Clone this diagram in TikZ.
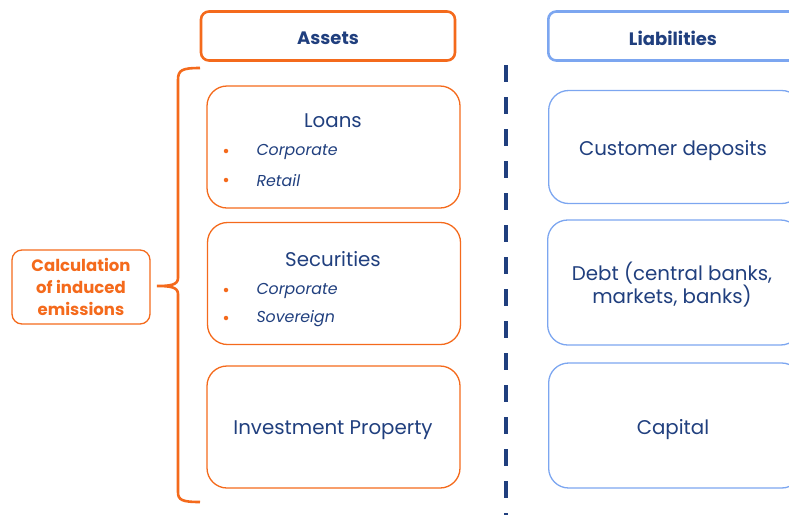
\documentclass[tikz,border=0pt]{standalone}
\usepackage{fontspec}
\setmainfont{Poppins}
\definecolor{orng}{HTML}{F46A1C}
\definecolor{lblue}{HTML}{7CA6F0}
\definecolor{navy}{HTML}{203F7E}
\begin{document}
\begin{tikzpicture}[x=1pt,y=-1pt,
  hdr/.style={draw, line width=2.6pt, rounded corners=8pt, minimum height=49pt},
  hdrt/.style={text=navy, font=\fontsize{18}{21}\selectfont\bfseries},
  abox/.style={draw=orng, line width=1.3pt, rounded corners=20pt, minimum width=253pt, minimum height=122pt},
  lbox/.style={draw=lblue, line width=1.3pt, rounded corners=20pt, minimum width=253pt, minimum height=114pt},
  ttl/.style={text=navy, font=\fontsize{19.8}{24}\selectfont, yshift=-2.5pt},
  itm/.style={text=navy, font=\fontsize{15.8}{19}\selectfont\itshape, anchor=west, yshift=-2.5pt},
  bul/.style={fill=orng, circle, inner sep=0pt, minimum size=4.5pt, yshift=-2pt}]
\useasboundingbox (0,0) rectangle (789,515);
% headers
\node[hdr, draw=orng, minimum width=254pt] (assets) at (328,36) {};
\node[hdrt] (assetst) at (328,38) {Assets};
\node[hdr, draw=lblue, minimum width=260pt, anchor=west] (liab) at (547,36) {};
\node[hdrt] (liabt) at (673,38) {Liabilities};
% dashed separator
\coordinate (dtop) at (506,65);
\coordinate (dbot) at (506,515);
\draw[navy, line width=3.8pt, dash pattern=on 17pt off 15pt] (dtop) -- (dbot);
% asset boxes
\node[abox] (loans) at (333.5,147) {};
\node[ttl] (loanst) at (333,118) {Loans};
\node[bul] (lb1) at (226,149) {};
\node[itm] (li1) at (253,149) {Corporate};
\node[bul] (lb2) at (226,178) {};
\node[itm] (li2) at (253,178) {Retail};
\node[abox] (secs) at (334,283.5) {};
\node[ttl] (secst) at (333,257) {Securities};
\node[bul] (sb1) at (226,288) {};
\node[itm] (si1) at (253,288) {Corporate};
\node[bul] (sb2) at (226,316) {};
\node[itm] (si2) at (253,316) {Sovereign};
\node[abox] (inv) at (333.5,427) {};
\node[ttl] (invt) at (333,428) {Investment Property};
% liability boxes
\node[lbox, anchor=west, minimum height=113pt] (cust) at (548,147) {};
\node[ttl] (custt) at (673,148) {Customer deposits};
\node[lbox, anchor=west, minimum height=125pt] (debt) at (547,282.5) {};
\node[ttl, align=center] (debtt) at (672,282) {Debt (central banks,\\[-1pt] markets, banks)};
\node[lbox, anchor=west, minimum height=125pt] (cap) at (548,425.5) {};
\node[ttl] (capt) at (673,427) {Capital};
% calculation box
\node[draw=orng, line width=1.3pt, rounded corners=10pt, minimum width=138pt, minimum height=74pt, text=orng, align=center, font=\fontsize{16.5}{22}\selectfont\bfseries] (calc) at (81,287) {Calculation\\of induced\\emissions};
% brace
\coordinate (btop) at (200,68);
\coordinate (bbot) at (200,502);
\coordinate (btip) at (157,286);
\draw[orng, line width=2.6pt] (btop) .. controls (182,68) and (178,70) .. (178,80)
  -- (178,278) .. controls (178,285) and (170,286) .. (btip)
  .. controls (170,286) and (178,287) .. (178,294)
  -- (178,492) .. controls (178,500) and (182,502) .. (bbot);
\end{tikzpicture}
\end{document}
